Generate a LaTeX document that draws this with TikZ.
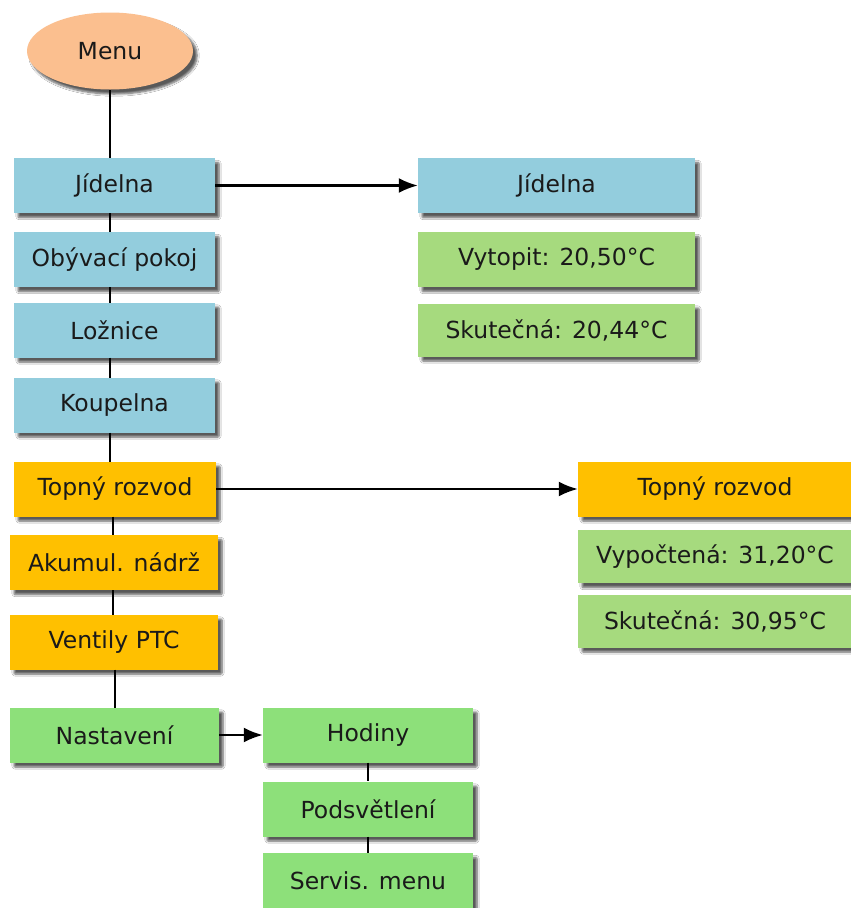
\documentclass[tikz,border=0pt]{standalone}
\usepackage{fontspec}
\setmainfont{DejaVu Sans}
\usetikzlibrary{shapes.geometric,shadows.blur,arrows.meta}
\definecolor{roomblue}{HTML}{93CDDD}
\definecolor{heatorange}{HTML}{FFC000}
\definecolor{valgreen}{HTML}{A6DA7E}
\definecolor{setgreen}{HTML}{8DE07A}
\definecolor{menupeach}{HTML}{FBBF8F}
\definecolor{ink}{HTML}{1A1A1A}
\tikzset{
  shade box/.style={blur shadow={shadow xshift=4pt, shadow yshift=-4.5pt, shadow blur steps=6, shadow blur extra rounding=1pt, shadow opacity=65}},
  label font/.style={font=\fontsize{23.5}{28}\selectfont},
  box/.style={rectangle, inner sep=0pt, minimum height=55pt, text=ink, shade box, label font},
  leftbox/.style={box, minimum width=201pt},
  link/.style={draw=black, line width=2.2pt},
  arrowlink/.style={link, -{Latex[length=19pt,width=15pt]}}
}
\begin{document}
\begin{tikzpicture}[x=1pt,y=-1pt]
  \useasboundingbox[fill=white] (0,0) rectangle (851,908);

  % top of the menu tree
  \node[ellipse, fill=menupeach, minimum width=166pt, minimum height=77pt, inner sep=0pt,
        text=ink, shade box, label font] (menu) at (110,51) {Menu};

  % room entries
  \node[leftbox, fill=roomblue] (jid) at (114.5,185.5) {Jídelna};
  \node[leftbox, fill=roomblue] (oby) at (114.5,259.5) {Obývací pokoj};
  \node[leftbox, fill=roomblue] (loz) at (114.5,330) {Ložnice};
  \node[leftbox, fill=roomblue] (kou) at (114.5,405) {Koupelna};

  % heating entries
  \node[leftbox, fill=heatorange, minimum width=202pt] (top) at (115,489) {Topný rozvod};
  \node[leftbox, fill=heatorange, minimum width=208pt] (aku) at (114,562.5) {Akumul. nádrž};
  \node[leftbox, fill=heatorange, minimum width=208pt] (ven) at (114,642) {Ventily PTC};

  % settings entry
  \node[leftbox, fill=setgreen, minimum width=209pt] (nas) at (114.5,735) {Nastavení};

  % room detail screen
  \node[box, fill=roomblue, minimum width=277pt] (rjid) at (556.5,185.5) {Jídelna};
  \node[box, fill=valgreen, minimum width=277pt] (vyt) at (556.5,259.5) {Vytopit: 20,50°C};
  \node[box, fill=valgreen, minimum width=277pt, minimum height=53pt] (sk1) at (556.5,330) {Skutečná: 20,44°C};

  % heating detail screen
  \node[box, fill=heatorange, minimum width=274pt] (rtop) at (715,489) {Topný rozvod};
  \node[box, fill=valgreen, minimum width=274pt, minimum height=53pt] (vyp) at (715,556.5) {Vypočtená: 31,20°C};
  \node[box, fill=valgreen, minimum width=274pt, minimum height=53pt] (sk2) at (715,621) {Skutečná: 30,95°C};

  % settings submenu
  \node[box, fill=setgreen, minimum width=210pt] (hod) at (368,735) {Hodiny};
  \node[box, fill=setgreen, minimum width=210pt] (pod) at (368,809) {Podsvětlení};
  \node[box, fill=setgreen, minimum width=210pt] (ser) at (368,880.5) {Servis. menu};

  % vertical chain of the main menu
  \draw[link] (menu.south) -- (menu.south |- jid.north);
  \draw[link] (110,213) -- (110,232);
  \draw[link] (110,287) -- (110,302.5);
  \draw[link] (110,357.5) -- (110,377.5);
  \draw[link] (110,432.5) -- (110,461.5);
  \draw[link] (113,516.5) -- (113,535);
  \draw[link] (113,590) -- (113,614.5);
  \draw[link] (115,669.5) -- (115,707.5);

  % branches into the detail screens
  \draw[arrowlink] (jid.east) -- (rjid.west);
  \draw[arrowlink] (top.east) -- (rtop.west);
  \draw[arrowlink] (nas.east) -- (hod.west);

  % settings submenu chain
  \draw[link] (hod.south) -- (pod.north);
  \draw[link] (pod.south) -- (ser.north);
\end{tikzpicture}
\end{document}
